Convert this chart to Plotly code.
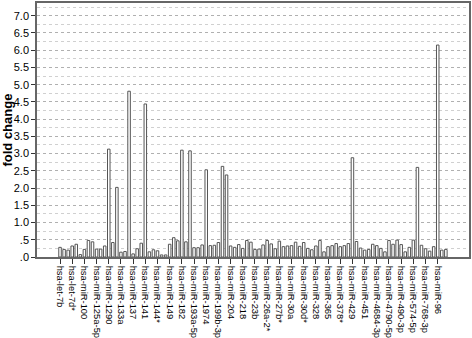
import plotly.graph_objects as go

# Fold change per bar (96 bars, every 3rd bar labelled)
fold_change = [
    0.28, 0.22, 0.20, 0.32, 0.37, 0.07, 0.22, 0.48, 0.44, 0.23,
    0.23, 0.32, 3.13, 0.42, 2.02, 0.14, 0.16, 4.81, 0.09, 0.24,
    0.40, 4.44, 0.15, 0.21, 0.18, 0.06, 0.06, 0.37, 0.56, 0.47,
    3.10, 0.44, 3.08, 0.27, 0.27, 0.35, 2.53, 0.33, 0.34, 0.42,
    2.63, 2.38, 0.32, 0.28, 0.36, 0.25, 0.48, 0.43, 0.22, 0.23,
    0.35, 0.48, 0.38, 0.24, 0.46, 0.30, 0.32, 0.33, 0.43, 0.31,
    0.42, 0.25, 0.21, 0.32, 0.48, 0.15, 0.30, 0.33, 0.39, 0.30,
    0.33, 0.39, 2.88, 0.45, 0.26, 0.20, 0.22, 0.37, 0.33, 0.25,
    0.15, 0.48, 0.37, 0.49, 0.36, 0.15, 0.28, 0.49, 2.60, 0.34,
    0.24, 0.17, 0.30, 6.15, 0.20, 0.22,
]

tick_labels = [
    "hsa-let-7b", "hsa-let-7d*", "hsa-miR-100", "hsa-miR-125a-5p",
    "hsa-miR-1290", "hsa-miR-133a", "hsa-miR-137", "hsa-miR-141",
    "hsa-miR-144*", "hsa-miR-149", "hsa-miR-182", "hsa-miR-193a-5p",
    "hsa-miR-1974", "hsa-miR-199b-3p", "hsa-miR-204", "hsa-miR-218",
    "hsa-miR-23b", "hsa-miR-26a-2*", "hsa-miR-27b*", "hsa-miR-30a",
    "hsa-miR-30d*", "hsa-miR-328", "hsa-miR-365", "hsa-miR-378*",
    "hsa-miR-429", "hsa-miR-451", "hsa-miR-4684-3p", "hsa-miR-4790-5p",
    "hsa-miR-490-3p", "hsa-miR-574-5p", "hsa-miR-768-3p", "hsa-miR-96",
]
label_step = 3

y_tick_vals = [0, 0.5, 1, 1.5, 2, 2.5, 3, 3.5, 4, 4.5, 5, 5.5, 6, 6.5, 7]
y_tick_text = [".0", ".5", "1.0", "1.5", "2.0", "2.5", "3.0", "3.5", "4.0",
               "4.5", "5.0", "5.5", "6.0", "6.5", "7.0"]

x_idx = list(range(len(fold_change)))
tick_pos = [i * label_step for i in range(len(tick_labels))]

fig = go.Figure(
    go.Bar(
        x=x_idx,
        y=fold_change,
        width=0.62,
        marker=dict(color="#ffffff", line=dict(color="#555555", width=1)),
    )
)

fig.update_layout(
    width=472,
    height=338,
    margin=dict(l=37, r=3, t=3, b=81),
    paper_bgcolor="white",
    plot_bgcolor="white",
    font=dict(family="Liberation Sans, Arial, sans-serif", color="#000000"),
    showlegend=False,
    annotations=[
        dict(
            text="<b>fold change</b>",
            xref="paper", yref="paper",
            x=-0.0705, y=0.5,
            xanchor="center", yanchor="middle",
            textangle=-90,
            showarrow=False,
            font=dict(size=13),
        )
    ],
)

fig.update_xaxes(
    automargin=False,
    range=[-5.67, 100.7],
    tickmode="array",
    tickvals=tick_pos,
    ticktext=tick_labels,
    tickangle=90,
    tickfont=dict(size=9.4),
    ticks="outside",
    ticklen=5,
    tickcolor="#333333",
    showgrid=False,
    showline=True,
    linecolor="#666666",
    linewidth=1.5,
    mirror=True,
    zeroline=False,
)

fig.update_yaxes(
    automargin=False,
    range=[0, 7.37],
    tickmode="array",
    tickvals=y_tick_vals,
    ticktext=y_tick_text,
    tickfont=dict(size=11),
    ticks="outside",
    ticklen=4,
    tickcolor="#333333",
    showgrid=True,
    gridcolor="#b0b0b0",
    griddash="dot",
    gridwidth=1,
    minor=dict(dtick=0.25, showgrid=True, gridcolor="#d0d0d0", griddash="dot", gridwidth=1),
    showline=True,
    linecolor="#666666",
    linewidth=1.5,
    mirror=True,
    zeroline=False,
)

fig.write_html(
    "out.html",
    config={"displayModeBar": False},
    post_script="document.body.style.margin='0';document.body.style.overflow='hidden';",
)
